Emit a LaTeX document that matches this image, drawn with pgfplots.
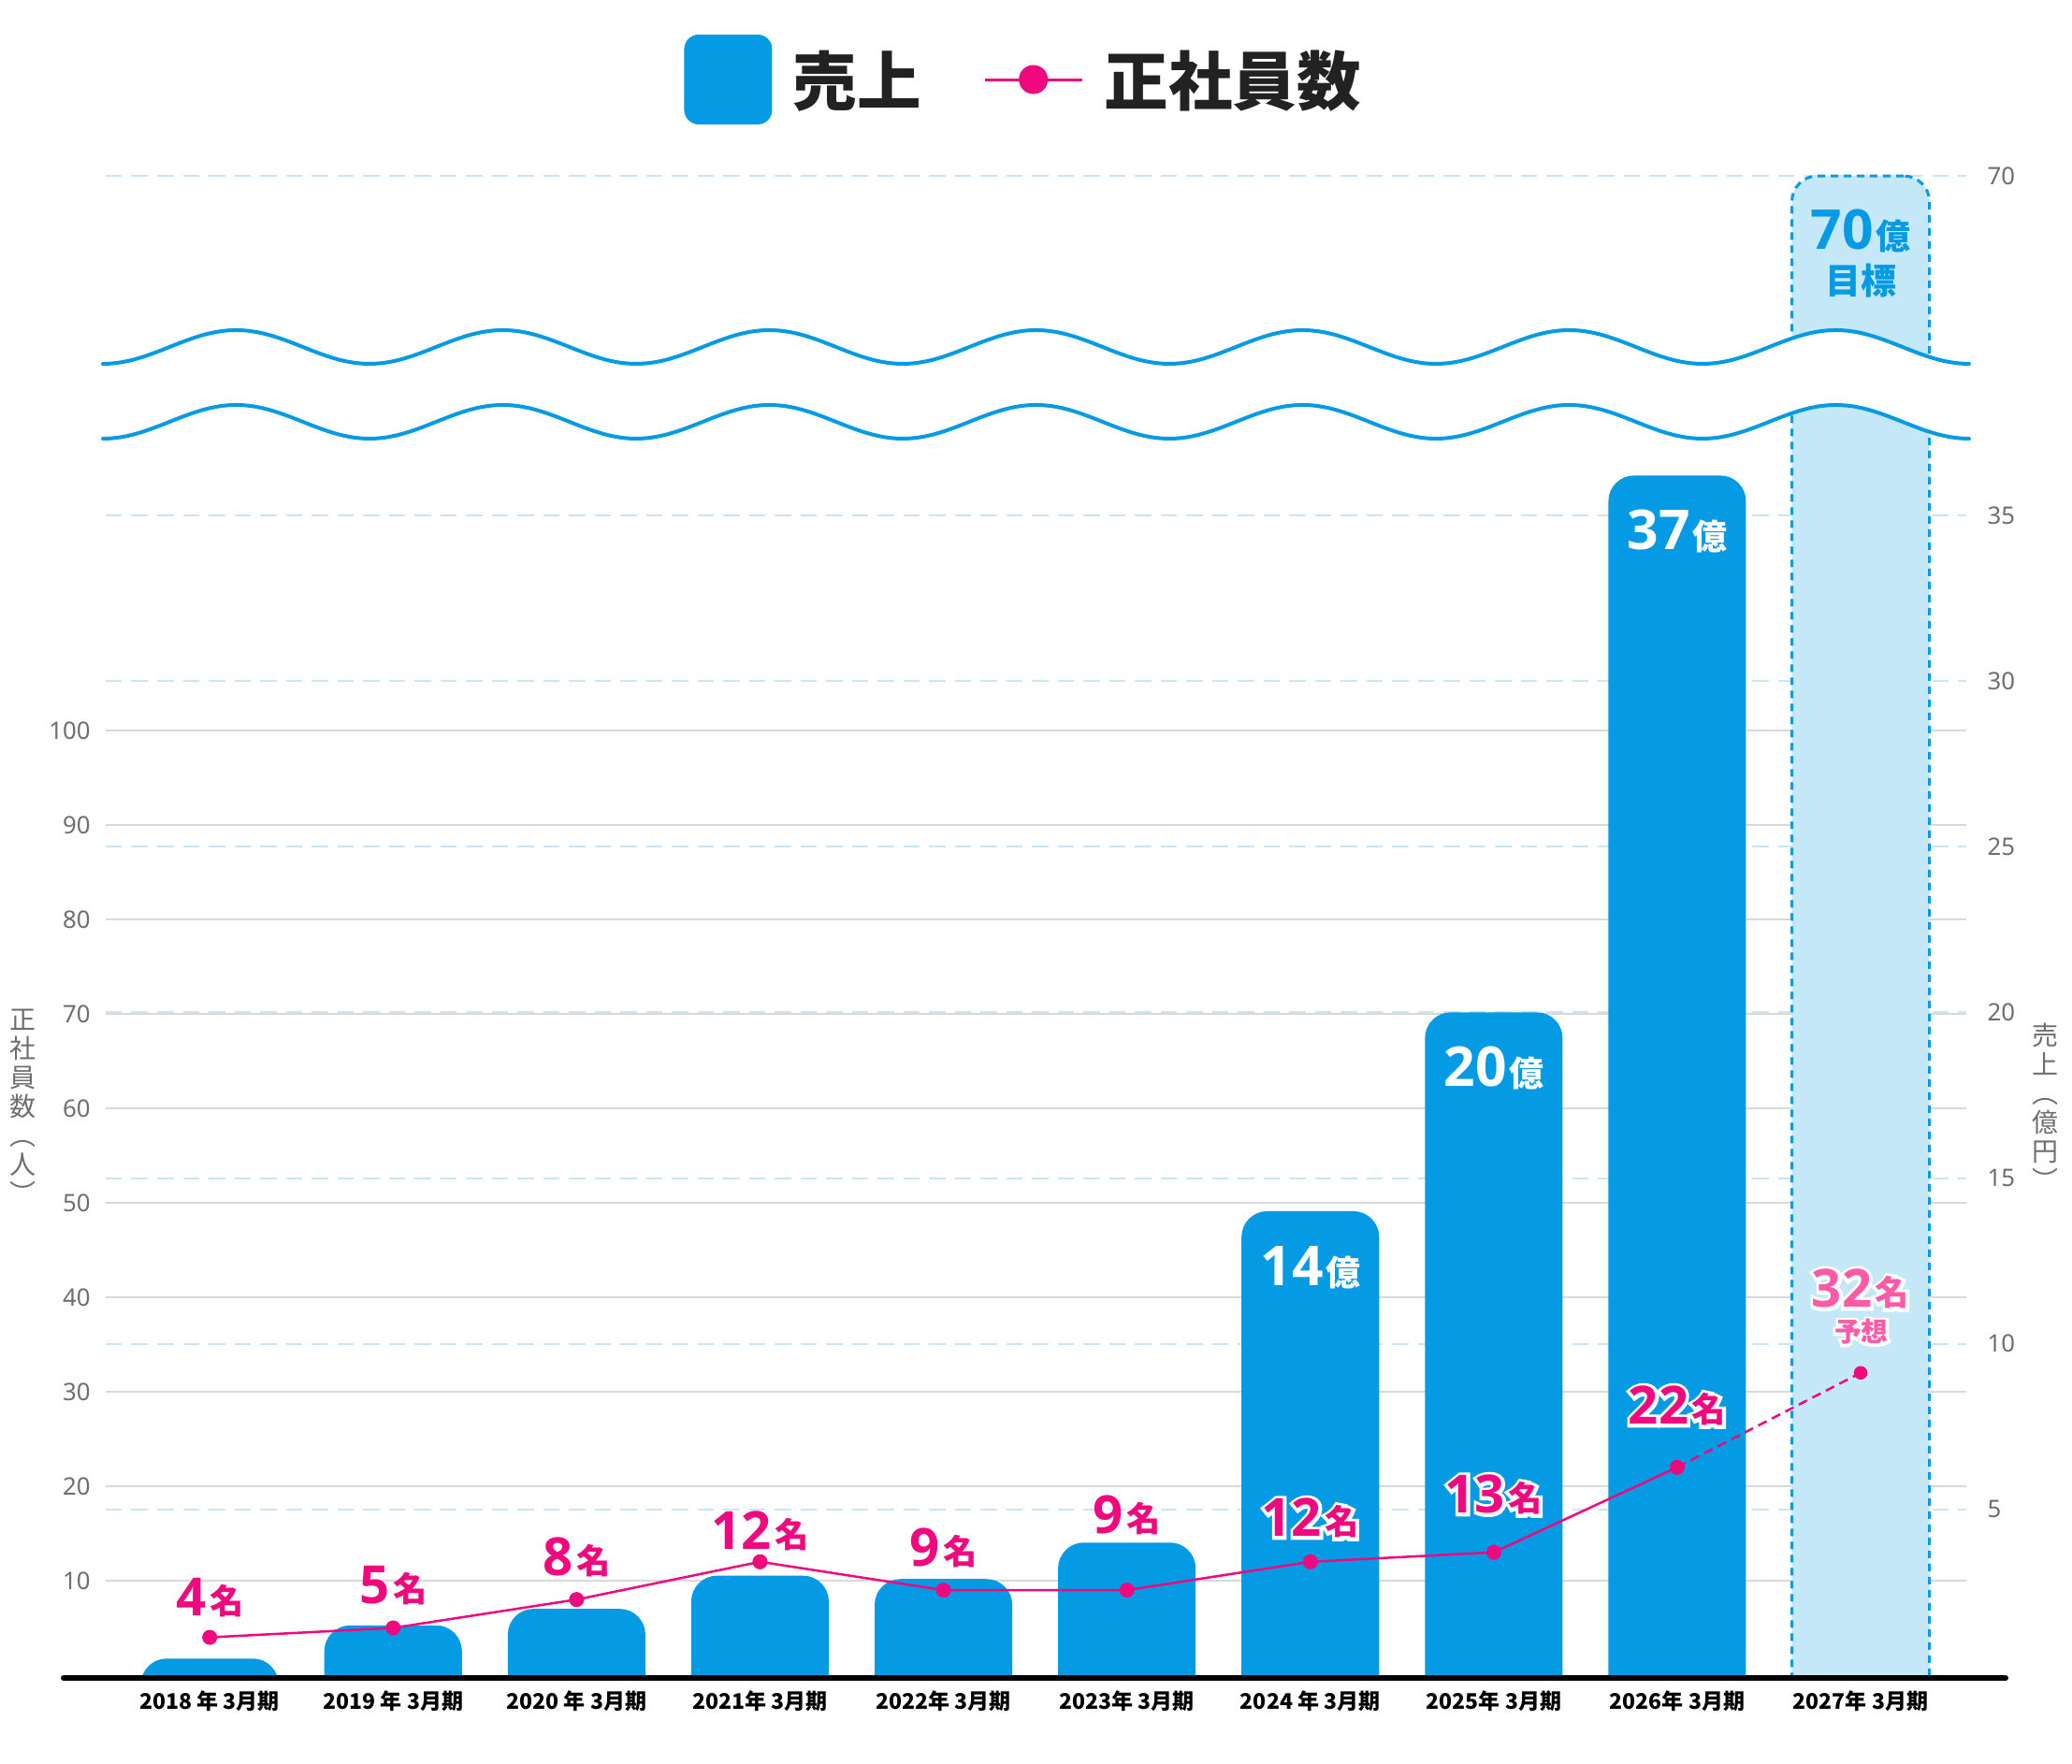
\documentclass[border=0pt]{standalone}
\usepackage{pgfplots}
\pgfplotsset{compat=1.18}
\usepackage{fontspec}
\setmainfont{Noto Sans}
\newfontfamily\jp{Noto Sans CJK JP}
\newfontfamily\ns{Noto Sans}
\newfontfamily\os{Open Sans}
% thickened copies used as white halos behind the labels
\newfontfamily\osO{Open Sans}[BoldFeatures={FakeBold=12.4}]
\newfontfamily\jpO{Noto Sans CJK JP}[BoldFeatures={FakeBold=19.3}]
\definecolor{barblue}{RGB}{4,154,228}
\definecolor{lightbar}{RGB}{197,232,248}
\definecolor{gridblue}{RGB}{200,230,246}
\definecolor{pinkc}{RGB}{240,8,126}
\definecolor{pinkl}{RGB}{255,90,166}
\definecolor{tickgray}{RGB}{110,110,110}
\definecolor{gridgray}{RGB}{217,217,217}
\definecolor{legtext}{RGB}{34,34,34}

\newcommand\oku[1]{{\os\bfseries\fontsize{23.5}{24}\selectfont #1}\hspace{1pt}{\jp\bfseries\fontsize{14.8}{15}\selectfont 億}}
\newcommand\mei[1]{{\os\bfseries\fontsize{22.5}{23}\selectfont #1}\hspace{1.5pt}\raisebox{0.8pt}{\jp\bfseries\fontsize{14.5}{15}\selectfont 名}}
\newcommand\meiO[1]{{\osO\bfseries\fontsize{22.5}{23}\selectfont #1}\hspace{1.5pt}\raisebox{0.8pt}{\jpO\bfseries\fontsize{14.5}{15}\selectfont 名}}
% plain label: x, y (px), colour, number
\newcommand\plab[4]{\node[anchor=base, inner sep=0pt, text=#3] at (#1,#2) {\mei{#4}};}
% haloed label: x, y (px), colour, number
\newcommand\hlab[4]{\node[anchor=base, inner sep=0pt, text=white] at (#1,#2) {\meiO{#4}};
  \node[anchor=base, inner sep=0pt, text=#3] at (#1,#2) {\mei{#4}};}

\begin{document}
\begin{tikzpicture}
\useasboundingbox (0,0) rectangle (886pt,754.4pt);

% ---------- left axis: grid and ticks ----------
\begin{axis}[
  at={(45.2pt,38pt)}, anchor=south west, scale only axis,
  width=795.6pt, height=655.32pt,
  xmin=-0.567, xmax=9.576, ymin=0, ymax=162.2,
  axis line style={draw=none}, major tick length=0pt,
  ytick={10,20,...,100}, ymajorgrids,
  grid style={gridgray, line width=0.8pt},
  xtick=\empty,
  y tick label style={font=\ns\fontsize{10.3}{12}\selectfont, text=tickgray, xshift=-3pt},
  /pgf/number format/assume math mode=true,
]
\end{axis}

% ---------- right axis: sales bars (broken above 35) ----------
% box reaches 1.2 units below the baseline so that the bars have square feet
\begin{axis}[
  at={(45.2pt,21pt)}, anchor=south west, scale only axis,
  width=795.6pt, height=672.33pt,
  xmin=-0.567, xmax=9.576,
  y coord trafo/.code={\pgfmathparse{#1==0 ? 0 : (#1>50 ? #1-14.76 : #1+10)}},
  ymin=-1.2, ymax=71,
  ytick={5,10,15,20,25,30,35,70},
  yticklabels={5,10,15,20,25,30,35,70},
  yticklabel pos=right,
  y tick label style={font=\ns\fontsize{10.3}{12}\selectfont, text=tickgray, anchor=west, xshift=5.5pt},
  ymajorgrids, grid style={gridblue, line width=0.8pt, dash pattern=on 7pt off 4pt},
  xtick=\empty,
  axis line style={draw=none}, major tick length=0pt,
  clip mode=individual,
]
\addplot[ybar, bar width=0.75, bar shift=0pt, fill=barblue, draw=none, rounded corners=11pt]
  coordinates {(0,0.5) (1,1.5) (2,2) (3,3) (4,2.9) (5,4) (6,14) (7,20) (8,36.2)};
\addplot[ybar, bar width=0.75, bar shift=0pt, fill=lightbar, draw=barblue, line width=1.2pt,
  dash pattern=on 3.2pt off 2.4pt, rounded corners=11pt]
  coordinates {(9,70)};
\end{axis}

% ---------- break marks, baseline ----------
\begin{scope}[x=0.4pt, y=-0.4pt, shift={(0pt,754.4pt)}]
\fill[white] (100,1792) rectangle (2120,1845);
\fill[white] (110,389) \foreach \k in {1,...,7}{ cos ++(71.25,-18) sin ++(71.25,-18) cos ++(71.25,18) sin ++(71.25,18) }
  -- (2105,469) \foreach \k in {1,...,7}{ cos ++(-71.25,-18) sin ++(-71.25,-18) cos ++(-71.25,18) sin ++(-71.25,18) } -- cycle;
\draw[barblue, line width=1.6pt, line cap=round] (110,389) \foreach \k in {1,...,7}{ cos ++(71.25,-18) sin ++(71.25,-18) cos ++(71.25,18) sin ++(71.25,18) };
\draw[barblue, line width=1.6pt, line cap=round] (110,469) \foreach \k in {1,...,7}{ cos ++(71.25,-18) sin ++(71.25,-18) cos ++(71.25,18) sin ++(71.25,18) };
\draw[black, line width=2.4pt, line cap=round] (68,1794) -- (2144,1794);
\end{scope}

% ---------- employees line (left scale), x labels, legend ----------
\begin{axis}[
  at={(45.2pt,38pt)}, anchor=south west, scale only axis,
  width=795.6pt, height=655.32pt,
  xmin=-0.567, xmax=9.576, ymin=0, ymax=162.2,
  axis line style={draw=none}, major tick length=0pt, clip=false,
  ytick=\empty,
  xtick={0,...,9},
  xticklabels={2018 年 3月期,2019 年 3月期,2020 年 3月期,2021年 3月期,2022年 3月期,2023年 3月期,2024 年 3月期,2025年 3月期,2026年 3月期,2027年 3月期},
  x tick label style={font=\jp\bfseries\fontsize{9.2}{11}\selectfont, text=black, anchor=north, yshift=-3.3pt},
  legend columns=2,
  legend style={draw=none, fill=none, at={(0.494,1.0413)}, anchor=center,
    font=\jp\bfseries\fontsize{27.4}{30}\selectfont, text=legtext,
    /tikz/every odd column/.append style={column sep=7pt},
    /tikz/every even column/.append style={column sep=24.5pt}},
]
\addlegendimage{legend image code/.code={\fill[barblue, rounded corners=6pt] (0pt,-19pt) rectangle (37.2pt,19pt);}}
\addlegendentry{売上}
\addlegendimage{legend image code/.code={\draw[pinkc, line width=1.2pt] (0pt,0pt) -- (41.6pt,0pt); \fill[pinkc] (20.8pt,0pt) circle (6pt);}}
\addlegendentry{正社員数}
\addplot[pinkc, line width=1pt, mark=*, mark size=2.7pt, mark options={solid}, forget plot]
  coordinates {(0,4) (1,5) (2,8) (3,12) (4,9) (5,9) (6,12) (7,13) (8,22)};
\addplot[pinkc, line width=1pt, dash pattern=on 4pt off 2.5pt, forget plot]
  coordinates {(8,22) (9,32)};
\addplot[pinkc, only marks, mark=*, mark size=2.7pt, forget plot]
  coordinates {(9,32)};
\end{axis}

% ---------- annotations ----------
\begin{scope}[x=0.4pt, y=-0.4pt, shift={(0pt,754.4pt)}]
% axis titles
\node[font=\jp\fontsize{11.2}{12.4}\selectfont, text=tickgray, align=center, inner sep=0pt] at (25,1183) {正\\社\\員\\数\\︵\\人\\︶};
\node[font=\jp\fontsize{11.2}{12.4}\selectfont, text=tickgray, align=center, inner sep=0pt] at (2187,1183) {売\\上\\︵\\億\\円\\︶};
% bar labels
\node[anchor=base, inner sep=0pt, text=white] at (1400.8,1375) {\oku{14}};
\node[anchor=base, inner sep=0pt, text=white] at (1596.9,1161.7) {\oku{20}};
\node[anchor=base, inner sep=0pt, text=white] at (1793,588) {\oku{37}};
\node[anchor=base, inner sep=0pt, text=barblue] at (1989,267) {\oku{70}};
\node[anchor=center, inner sep=0pt, text=barblue, font=\jp\bfseries\fontsize{15.2}{16}\selectfont] at (1990,300.5) {目標};
% employee labels
\plab{224.2}{1728}{pinkc}{4}
\plab{420.3}{1715}{pinkc}{5}
\plab{616.4}{1685}{pinkc}{8}
\plab{812.5}{1657}{pinkc}{12}
\plab{1008.6}{1675}{pinkc}{9}
\plab{1204.7}{1640}{pinkc}{9}
\hlab{1400.8}{1643}{pinkc}{12}
\hlab{1596.9}{1618}{pinkc}{13}
\hlab{1793}{1523}{pinkc}{22}
\hlab{1989.1}{1398}{pinkl}{32}
\node[anchor=base, inner sep=0pt, text=white, font=\jpO\bfseries\fontsize{11.5}{12}\selectfont] at (1990,1435) {予想};
\node[anchor=base, inner sep=0pt, text=pinkl, font=\jp\bfseries\fontsize{11.5}{12}\selectfont] at (1990,1435) {予想};
\end{scope}
\end{tikzpicture}
\end{document}
